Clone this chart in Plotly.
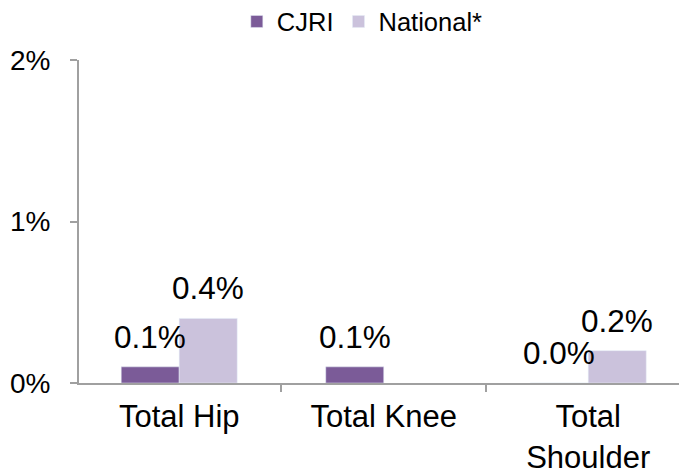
import plotly.graph_objects as go

categories = ["Total Hip", "Total Knee", "Total<br>Shoulder"]
cjri_values = [0.1, 0.1, 0.0]
national_values = [0.4, None, 0.2]
cjri_labels = ["0.1%", "0.1%", "0.0%"]
national_labels = ["0.4%", None, "0.2%"]
y_ticks = [0, 1, 2]
y_tick_labels = ["0%", "1%", "2%"]

CJRI_COLOR = "#7B5B98"
NAT_COLOR = "#CBC2DC"
FONT = "Arial, Liberation Sans, sans-serif"

fig = go.Figure()
fig.add_trace(go.Bar(name="CJRI", x=categories, y=cjri_values, marker_color=CJRI_COLOR))
fig.add_trace(go.Bar(name="National*", x=categories, y=national_values, marker_color=NAT_COLOR))

bargap = 0.433
half = (1 - bargap) / 4
for i in range(len(categories)):
    for vals, labs, off in ((cjri_values, cjri_labels, -half), (national_values, national_labels, half)):
        if vals[i] is None:
            continue
        fig.add_annotation(x=i + off, y=vals[i], xref="x", yref="y", text=labs[i],
                           showarrow=False, yanchor="middle", yshift=30,
                           font=dict(size=31.5, color="#000000", family=FONT))

# the page body has a default margin; size the figure to fit the window
fig.update_layout(
    width=679, height=465,
    margin=dict(l=71, r=1, t=52, b=90, autoexpand=False),
    paper_bgcolor="white", plot_bgcolor="white",
    barmode="group", bargap=bargap, bargroupgap=0,
    font=dict(family=FONT, color="#000000"),
    showlegend=True,
    legend=dict(orientation="h", x=0.26, xanchor="left", y=1.118, yanchor="middle",
                font=dict(size=25.5, family=FONT), traceorder="normal"),
)
fig.update_xaxes(range=[-0.49, 2.478], showline=True, linecolor="#A0A0A0", linewidth=2,
                 ticks="outside", tickson="boundaries", ticklen=7, tickcolor="#A0A0A0",
                 tickwidth=2, tickfont=dict(size=31, family=FONT), showgrid=False,
                 automargin=False, ticklabelstandoff=5)
fig.update_yaxes(range=[0, 2], tickvals=y_ticks, ticktext=y_tick_labels, showline=True,
                 linecolor="#A0A0A0", linewidth=2, ticks="outside", ticklen=7,
                 tickcolor="#A0A0A0", tickwidth=2, showgrid=False, zeroline=False,
                 tickfont=dict(size=28, family=FONT), automargin=False,
                 ticklabelstandoff=14)

fig.write_html("out.html")
